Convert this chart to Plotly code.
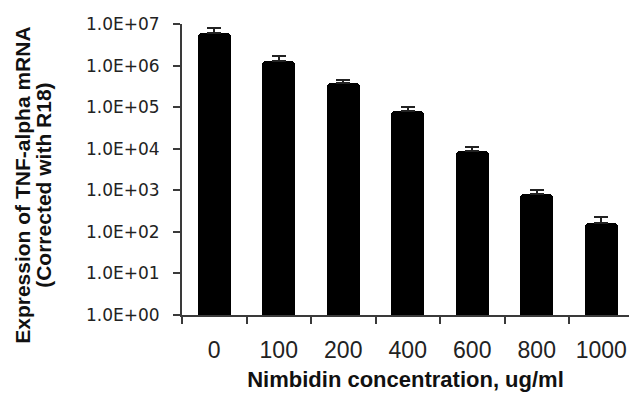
import plotly.graph_objects as go

categories = ["0", "100", "200", "400", "600", "800", "1000"]
expression = [6.0e6, 1.3e6, 3.8e5, 8.1e4, 8.9e3, 8.1e2, 1.65e2]
error_plus = [2.0e6, 0.4e6, 0.7e5, 1.9e4, 2.1e3, 1.9e2, 0.65e2]
y_tick_vals = [1e0, 1e1, 1e2, 1e3, 1e4, 1e5, 1e6, 1e7]
y_tick_text = ["1.0E+00", "1.0E+01", "1.0E+02", "1.0E+03", "1.0E+04", "1.0E+05", "1.0E+06", "1.0E+07"]
x_title = "Nimbidin concentration, ug/ml"
y_title_lines = ["Expression of TNF-alpha mRNA", "(Corrected with R18)"]

xpos = list(range(len(categories)))
boundaries = [i - 0.5 for i in range(len(categories) + 1)]

AX = "#3a3a3a"

fig = go.Figure()
fig.add_trace(go.Bar(
    x=xpos, y=expression, width=0.51,
    marker=dict(color="black", line=dict(width=0), cornerradius=4),
    error_y=dict(type="data", symmetric=False, array=error_plus,
                 arrayminus=[0] * len(expression),
                 color="#222222", thickness=2, width=7),
    showlegend=False,
))
fig.add_trace(go.Scatter(x=[None], y=[None], xaxis="x2", showlegend=False, hoverinfo="skip"))

title_x = [-0.356, -0.309]
annotations = [
    dict(text="<b>" + line + "</b>", textangle=-90,
         xref="paper", yref="paper", x=tx, y=0.447,
         xanchor="center", yanchor="middle", showarrow=False,
         font=dict(size=21, color="#111"))
    for line, tx in zip(y_title_lines, title_x)
]

fig.update_layout(
    width=629, height=403,
    margin=dict(l=182, r=0, t=24, b=88),
    plot_bgcolor="white", paper_bgcolor="white",
    bargap=0,
    font=dict(family="Liberation Sans, Arial", color="black"),
    xaxis=dict(
        range=[-0.5, 6.43], tickvals=xpos, ticktext=categories,
        ticks="", showgrid=False, zeroline=False,
        showline=True, linecolor=AX, linewidth=2,
        tickfont=dict(size=23, family="Liberation Sans, Arial", color="#222"),
        ticklabelstandoff=13,
        title=dict(text="<b>" + x_title + "</b>", font=dict(size=22, color="#111"), standoff=10),
    ),
    xaxis2=dict(
        overlaying="x", anchor="y", side="bottom",
        range=[-0.5, 6.43], tickvals=boundaries,
        ticks="outside", ticklen=8, tickwidth=2, tickcolor=AX,
        showticklabels=False, showgrid=False, zeroline=False, showline=False,
    ),
    yaxis=dict(
        type="log", range=[0, 7], tickvals=y_tick_vals, ticktext=y_tick_text,
        ticks="outside", ticklen=7, tickwidth=2, tickcolor=AX,
        showgrid=False, zeroline=False,
        showline=True, linecolor=AX, linewidth=2,
        tickfont=dict(size=17, family="DejaVu Sans", color="#222"),
        ticklabelstandoff=10,
    ),
    annotations=annotations,
)

fig.write_html("out.html")
